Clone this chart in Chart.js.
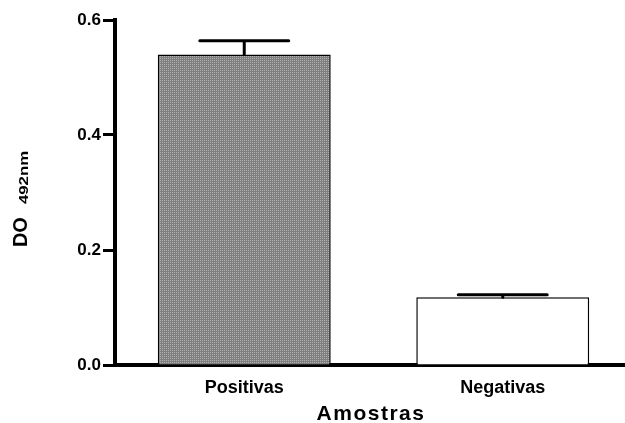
<!DOCTYPE html>
<html><head><meta charset="utf-8">
<script src="https://cdn.jsdelivr.net/npm/chart.js@4"></script>
<style>html,body{margin:0;padding:0;background:#fff}#wrap{width:625px;height:423px;position:relative}</style>
</head><body><div id="wrap"><canvas id="c"></canvas></div>
<script>
const categories = ['Positivas', 'Negativas'];
const means = [0.540, 0.118];
const errors = [0.024, 0.004];
const yTicks = [0.0, 0.2, 0.4, 0.6];
const xTitle = 'Amostras';
const yTitleMain = 'DO';
const yTitleSub = '492nm';

const FONT = '"Liberation Sans", Arial, Helvetica, sans-serif';

const canvas = document.getElementById('c');
const ctx0 = canvas.getContext('2d');
function makePattern() {
  const p = document.createElement('canvas');
  p.width = 2; p.height = 2;
  const g = p.getContext('2d');
  g.fillStyle = '#7e7e7e'; g.fillRect(0, 0, 2, 2);
  g.fillStyle = '#b2b2b2'; g.fillRect(0, 0, 1, 1);
  return ctx0.createPattern(p, 'repeat');
}
const grayPattern = makePattern();

// the plotted x-axis runs a little past the right edge of the picture
const extendX = {
  id: 'extendX',
  afterLayout(chart) {
    const x = chart.scales.x;
    x.right = chart.chartArea.right + 7;
    x.width = x.right - x.left;
    x.configure();
  }
};

const errorBars = {
  id: 'errorBars',
  afterDatasetsDraw(chart) {
    const { ctx, scales: { y } } = chart;
    const meta = chart.getDatasetMeta(0);
    ctx.save();
    ctx.strokeStyle = '#000';
    ctx.lineWidth = 3;
    ctx.lineCap = 'round';
    meta.data.forEach((bar, i) => {
      const x = bar.x;
      const top = y.getPixelForValue(means[i]);
      const e = y.getPixelForValue(means[i] + errors[i]);
      const half = bar.width * 0.257;
      ctx.beginPath();
      ctx.moveTo(x, top); ctx.lineTo(x, e);
      ctx.moveTo(x - half, e); ctx.lineTo(x + half, e);
      ctx.stroke();
    });
    ctx.restore();
  }
};

const titles = {
  id: 'titles',
  afterDraw(chart) {
    const { ctx } = chart;
    ctx.save();
    ctx.fillStyle = '#000';
    // x title
    ctx.font = 'bold 21px ' + FONT;
    ctx.textAlign = 'center';
    ctx.textBaseline = 'middle';
    try { ctx.letterSpacing = '1.5px'; } catch (e) {}
    ctx.fillText(xTitle, 371, 414);
    try { ctx.letterSpacing = '0px'; } catch (e) {}
    // y title (rotated)
    ctx.translate(27, 199);
    ctx.rotate(-Math.PI / 2);
    ctx.textBaseline = 'alphabetic';
    ctx.textAlign = 'left';
    ctx.font = 'bold 20px ' + FONT;
    const wMain = ctx.measureText(yTitleMain).width;
    ctx.font = 'bold 12px ' + FONT;
    const stretch = 1.4;
    const wSub = ctx.measureText(yTitleSub).width * stretch;
    const gap = 13;
    const total = wMain + gap + wSub;
    const start = -total / 2;
    ctx.font = 'bold 20px ' + FONT;
    ctx.fillText(yTitleMain, start, 0);
    ctx.font = 'bold 12px ' + FONT;
    ctx.save();
    ctx.translate(start + wMain + gap, 1);
    ctx.scale(stretch, 1);
    ctx.fillText(yTitleSub, 0, 0);
    ctx.restore();
    ctx.restore();
  }
};

new Chart(canvas, {
  type: 'bar',
  data: {
    labels: categories,
    datasets: [{
      data: means,
      backgroundColor: [grayPattern, '#ffffff'],
      borderColor: '#000',
      borderWidth: 1.5,
      borderSkipped: 'bottom',
      categoryPercentage: 1.0,
      barPercentage: 0.669
    }]
  },
  options: {
    responsive: true,
    maintainAspectRatio: false,
    animation: false,
    layout: { padding: { left: 0, top: 20, right: 0, bottom: 0 } },
    plugins: { legend: { display: false }, tooltip: { enabled: false }, title: { display: false } },
    scales: {
      x: {
        ticks: { font: { family: FONT, size: 18, weight: 'bold' }, color: '#000', padding: 12 },
        grid: { drawOnChartArea: false, drawTicks: false, color: 'rgba(0,0,0,0)' },
        border: { display: true, width: 4, color: '#000' },
        afterFit: s => { s.height = 58; }
      },
      y: {
        min: 0, max: 0.6,
        afterBuildTicks: s => { s.ticks = yTicks.map(v => ({ value: v })); },
        ticks: { font: { family: FONT, size: 17, weight: 'bold' }, color: '#000', padding: 2,
                 callback: v => Number(v).toFixed(1) },
        grid: { drawOnChartArea: false, drawTicks: true, tickLength: 12, tickWidth: 3, color: '#000' },
        border: { display: true, width: 4, color: '#000' },
        afterFit: s => { s.width = 115; }
      }
    }
  },
  plugins: [extendX, errorBars, titles]
});
</script>
</body></html>
